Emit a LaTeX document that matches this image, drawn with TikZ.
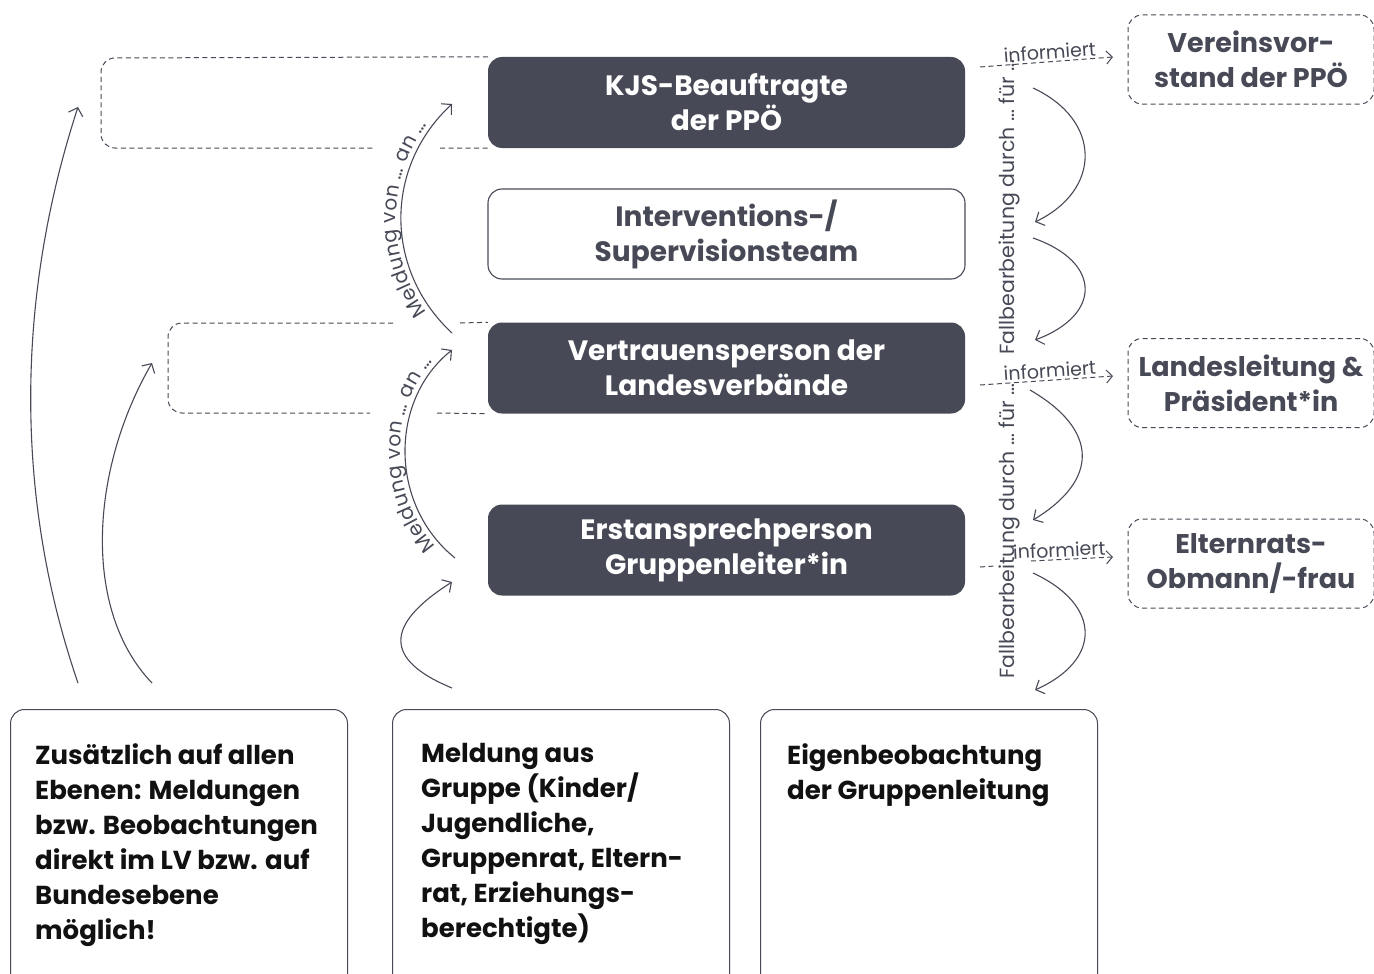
\documentclass[tikz,border=0pt]{standalone}
\usepackage{fontspec}
\setmainfont{Poppins}
\usetikzlibrary{arrows.meta,decorations.text}
\definecolor{dk}{HTML}{474A56}
\definecolor{bk}{HTML}{111111}
\newcommand\mylabelfont{\fontsize{19}{21}\selectfont}
\newcommand\myarcfont{\fontsize{20}{22}\selectfont}
\newcommand\myvertfont{\fontsize{20.5}{22}\selectfont}
\begin{document}
\begin{tikzpicture}[x=1pt,y=-1pt,
  darkbox/.style={fill=dk, rounded corners=14pt, minimum width=477pt, minimum height=91pt, text=white, font=\fontsize{28}{35}\selectfont\bfseries, align=center, inner sep=0pt},
  lightbox/.style={draw=dk, line width=1.1pt, fill=white, rounded corners=14pt, minimum width=477pt, minimum height=90pt, text=dk, font=\fontsize{28}{35}\selectfont\bfseries, align=center, inner sep=0pt},
  dashbox/.style={draw=dk, dash pattern=on 5pt off 3.5pt, line width=1pt, rounded corners=14pt, minimum width=246pt, minimum height=89pt, text=dk, font=\fontsize{27}{35}\selectfont\bfseries, align=center, inner sep=0pt},
  dline/.style={draw=dk, dash pattern=on 5pt off 3.5pt, line width=1pt},
  arr/.style={draw=dk, line width=1.1pt, -{Straight Barb[length=7pt,width=15pt]}},
  darr/.style={dline, -{Straight Barb[length=6pt,width=13pt]}},
  small/.style={font=\mylabelfont, text=dk},
  vert/.style={font=\myvertfont, text=dk},
  bottombox/.style={draw=dk, line width=1pt, rounded corners=14pt, minimum width=337pt, minimum height=320pt, anchor=north west, inner sep=0pt},
  btext/.style={font=\fontsize{26}{35}\selectfont\bfseries, text=bk, align=left, anchor=north west, inner sep=0pt},
  alongtext/.style={decorate, decoration={text along path, text={|\myarcfont|#1}, text color=dk, text align=center, raise=5pt}}
]
\clip (0,0) rectangle (1374,974);

% main column
\node[darkbox] (kjs) at (726.5,102.5) {KJS-Beauftragte\\der PPÖ};
\node[lightbox] (int) at (726.5,234) {Interventions-/\\Supervisionsteam};
\node[darkbox] (vp) at (726.5,368) {Vertrauensperson der\\Landesverbände};
\node[darkbox] (ea) at (726.5,550) {Erstansprechperson\\Gruppenleiter*in};

% right dashed boxes
\node[dashbox] (vv) at (1251,59.5) {Vereinsvor-\\stand der PPÖ};
\node[dashbox] (ll) at (1251,383) {Landesleitung \&\\Präsident*in};
\node[dashbox] (er) at (1251,563.5) {Elternrats-\\Obmann/-frau};

% left dashed frames
\draw[dline, rounded corners=14pt] (kjs.north west) -- (101,58) -- (101,148) -- (375,148);
\draw[dline] (440,148) -- (kjs.south west);
\draw[dline, rounded corners=14pt] (393,323) -- (168,323) -- (168,413) -- (370,413);
\draw[dline] (460,323) -- (vp.north west);
\draw[dline] (437,413) -- (vp.south west);

% Meldung arcs
\coordinate (m1s) at (452,333); \coordinate (m1e) at (452,104);
\coordinate (m2s) at (455,558); \coordinate (m2e) at (452,350);
\coordinate (m3s) at (452,688); \coordinate (m3e) at (452,582);
\draw[arr] (m1s) .. controls (384,270) and (384,167) .. (m1e);
\path[alongtext={Meldung von … an …}] (m1s) .. controls (384,270) and (384,167) .. (m1e);
\draw[arr] (m2s) .. controls (389,505) and (389,400) .. (m2e);
\path[alongtext={Meldung von … an …}] (m2s) .. controls (389,505) and (389,400) .. (m2e);
\draw[arr] (m3s) .. controls (384,660) and (384,625) .. (m3e);

% far left arrows
\coordinate (l1s) at (78,683); \coordinate (l1e) at (78,107);
\coordinate (l2s) at (152,683); \coordinate (l2e) at (152,363);
\draw[arr] (l1s) .. controls (15,500) and (15,300) .. (l1e);
\draw[arr] (l2s) .. controls (82,610) and (90,470) .. (l2e);

% Fallbearbeitung arrows
\coordinate (f1s) at (1033,88);  \coordinate (f1e) at (1035,222);
\coordinate (f2s) at (1033,238); \coordinate (f2e) at (1035,340);
\coordinate (f3s) at (1030,390); \coordinate (f3e) at (1033,520);
\coordinate (f4s) at (1033,573); \coordinate (f4e) at (1035,690);
\draw[arr] (f1s) .. controls (1102,120) and (1102,190) .. (f1e);
\draw[arr] (f2s) .. controls (1102,262) and (1102,315) .. (f2e);
\draw[arr] (f3s) .. controls (1099,430) and (1099,480) .. (f3e);
\draw[arr] (f4s) .. controls (1102,605) and (1102,660) .. (f4e);

\node[vert, rotate=90] (fb1) at (1009,207) {Fallbearbeitung durch … für …};
\node[vert, rotate=90] (fb2) at (1009,531) {Fallbearbeitung durch … für …};

% informiert arrows
\coordinate (i1s) at (980,67);  \coordinate (i1e) at (1113,57);
\coordinate (i2s) at (980,385); \coordinate (i2e) at (1113,376);
\coordinate (i3a) at (980,567); \coordinate (i3b) at (995,566);
\coordinate (i3s) at (1031,561); \coordinate (i3e) at (1113,557);
\draw[darr] (i1s) -- node[small, sloped, above, inner sep=2pt, pos=0.53] {informiert} (i1e);
\draw[darr] (i2s) -- node[small, sloped, above, inner sep=2pt, pos=0.53] {informiert} (i2e);
\draw[dline] (i3a) -- (i3b);
\draw[darr] (i3s) -- node[small, sloped, above, inner sep=2pt, pos=0.35] {informiert} (i3e);

% bottom boxes
\node[bottombox] (b1) at (10,709) {};
\node[bottombox] (b2) at (392,709) {};
\node[bottombox] (b3) at (760,709) {};
\node[btext] (t1) at (35,743) {Zusätzlich auf allen\\Ebenen: Meldungen\\bzw. Beobachtungen\\direkt im LV bzw. auf\\Bundesebene\\möglich!};
\node[btext] (t2) at (421,743) {Meldung aus\\Gruppe (Kinder/\\Jugendliche,\\Gruppenrat, Eltern-\\rat, Erziehungs-\\berechtigte)};
\node[btext] (t3) at (787,743) {Eigenbeobachtung\\der Gruppenleitung};
\end{tikzpicture}
\end{document}
